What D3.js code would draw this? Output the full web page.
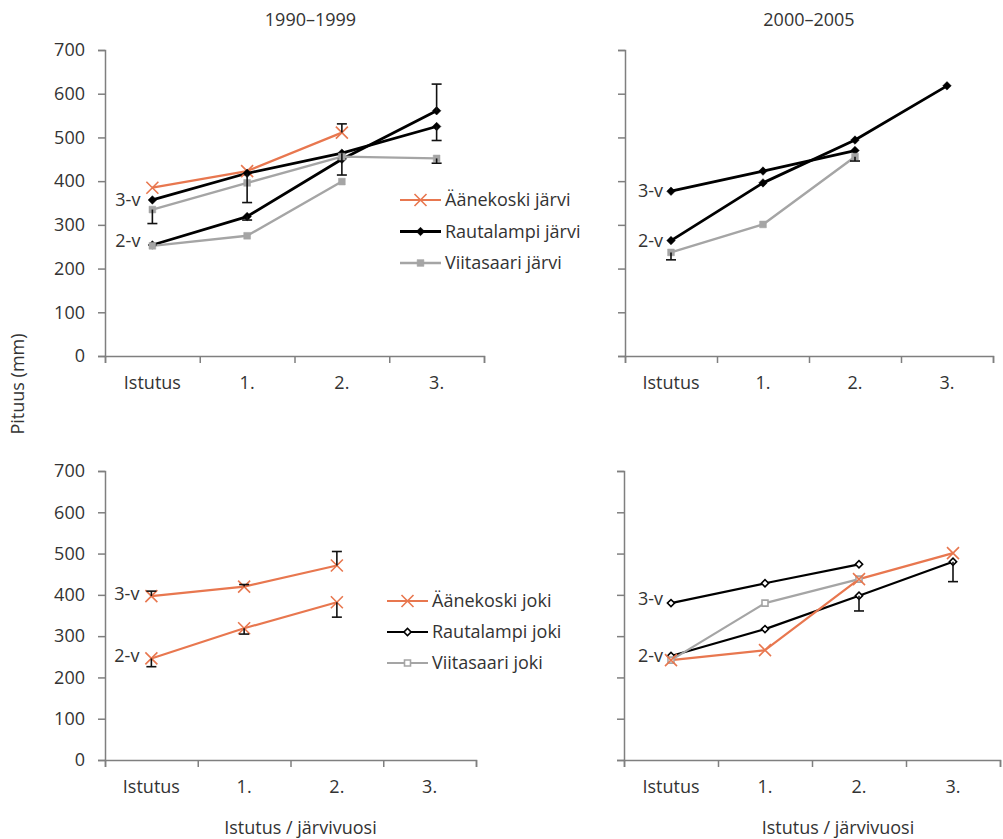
<!DOCTYPE html>
<html lang="fi">
<head>
<meta charset="UTF-8">
<title>Pituus (mm)</title>
<script src="https://d3js.org/d3.v7.min.js"></script>
<style>
  body { margin: 0; background: #fff; }
  text { font-family: "Open Sans", "Noto Sans", sans-serif; fill: #333; }
</style>
</head>
<body>
<svg id="chart" width="1003" height="839"></svg>
<script>
// luokat ja akselit
const categories = ["Istutus", "1.", "2.", "3."];
const yTicks = [0, 100, 200, 300, 400, 500, 600, 700];

// virhepalkit: + ylöspäin, - alaspäin (vain yksi suunta kuvassa)
// 1990–1999, järvi
const aanekoskiJarvi90_3v    = [385, 423, 511, null];
const aanekoskiJarvi90_3vErr = [0, 0, 20, 0];
const rautaJarvi90_3v        = [357, 418, 464, 525];
const rautaJarvi90_3vErr     = [0, -67, -50, -32];
const rautaJarvi90_2v        = [254, 319, 450, 561];
const rautaJarvi90_2vErr     = [0, -8, 0, 61];
const viitaJarvi90_3v        = [335, 396, 456, 452];
const viitaJarvi90_3vErr     = [-32, 0, 0, -11];
const viitaJarvi90_2v        = [252, 275, 399, null];

// 2000–2005, järvi
const rautaJarvi00_3v    = [377, 423, 470, null];
const rautaJarvi00_2v    = [264, 396, 494, 618];
const viitaJarvi00_2v    = [237, 301, 456, null];
const viitaJarvi00_2vErr = [-17, 0, -10, 0];

// 1990–1999, joki
const aanekoskiJoki90_3v    = [397, 420, 471, null];
const aanekoskiJoki90_3vErr = [12, 5, 34, 0];
const aanekoskiJoki90_2v    = [246, 319, 382, null];
const aanekoskiJoki90_2vErr = [-20, -14, -36, 0];

// 2000–2005, joki
const rautaJoki00_3v    = [380, 428, 474, null];
const rautaJoki00_2v    = [252, 317, 398, 480];
const rautaJoki00_2vErr = [0, 0, -37, -48];
const viitaJoki00_2v    = [242, 380, 438, null];
const aanekoskiJoki00_2v = [242, 266, 438, 501];

const ORANGE = "#E8774F", GREY = "#A5A5A5", BLACK = "#000";

const styles = {
  aanekoski: { color: ORANGE, marker: "x", width: 2.2 },
  rauta:     { color: BLACK, marker: "diamond", width: 2.8 },
  viita:     { color: GREY, marker: "square", width: 2.4 },
  rautaOpen: { color: BLACK, marker: "diamondOpen", width: 2.2 },
  viitaOpen: { color: GREY, marker: "squareOpen", width: 2.2 }
};

const panels = [
  {
    title: "1990–1999", xr: [105, 484], yr: [356, 50], yLabels: true, labelGap: 12,
    series: [
      { v: aanekoskiJarvi90_3v, e: aanekoskiJarvi90_3vErr, s: "aanekoski" },
      { v: rautaJarvi90_3v, e: rautaJarvi90_3vErr, s: "rauta" },
      { v: rautaJarvi90_2v, e: rautaJarvi90_2vErr, s: "rauta" },
      { v: viitaJarvi90_3v, e: viitaJarvi90_3vErr, s: "viita" },
      { v: viitaJarvi90_2v, s: "viita" }
    ],
    ages: [{ t: "3-v", v: rautaJarvi90_3v[0] }, { t: "2-v", v: viitaJarvi90_2v[0] + 12 }],
    legend: { x: 400, y: 200, gap: 31.5, items: [
      ["Äänekoski järvi", "aanekoski"], ["Rautalampi järvi", "rauta"], ["Viitasaari järvi", "viita"]] }
  },
  {
    title: "2000–2005", xr: [625, 993], yr: [356, 50], yLabels: false, labelGap: 8,
    series: [
      { v: rautaJarvi00_3v, s: "rauta" },
      { v: rautaJarvi00_2v, s: "rauta" },
      { v: viitaJarvi00_2v, e: viitaJarvi00_2vErr, s: "viita" }
    ],
    ages: [{ t: "3-v", v: rautaJarvi00_3v[0] }, { t: "2-v", v: rautaJarvi00_2v[0] }]
  },
  {
    xr: [105, 476], yr: [760, 471], yLabels: true, labelGap: 12, xTitle: true,
    series: [
      { v: aanekoskiJoki90_3v, e: aanekoskiJoki90_3vErr, s: "aanekoski" },
      { v: aanekoskiJoki90_2v, e: aanekoskiJoki90_2vErr, s: "aanekoski" }
    ],
    ages: [{ t: "3-v", v: aanekoskiJoki90_3v[0] + 6 }, { t: "2-v", v: aanekoskiJoki90_2v[0] + 6 }],
    legend: { x: 387, y: 601, gap: 31, items: [
      ["Äänekoski joki", "aanekoski"], ["Rautalampi joki", "rautaOpen"], ["Viitasaari joki", "viitaOpen"]] }
  },
  {
    xr: [624, 1000], yr: [760, 471], yLabels: false, labelGap: 8, xTitle: true,
    series: [
      { v: rautaJoki00_3v, s: "rautaOpen" },
      { v: rautaJoki00_2v, e: rautaJoki00_2vErr, s: "rautaOpen" },
      { v: viitaJoki00_2v, s: "viitaOpen" },
      { v: aanekoskiJoki00_2v, s: "aanekoski" }
    ],
    ages: [{ t: "3-v", v: rautaJoki00_3v[0] + 10 }, { t: "2-v", v: rautaJoki00_2v[0] }]
  }
];

const svg = d3.select("#chart");

function drawMarker(g, type, color, cx, cy) {
  if (type === "x") {
    const r = 6;
    g.append("path")
      .attr("d", `M${cx - r},${cy - r}L${cx + r},${cy + r}M${cx - r},${cy + r}L${cx + r},${cy - r}`)
      .attr("stroke", color).attr("stroke-width", 1.6).attr("fill", "none");
    return;
  }
  const open = type.endsWith("Open");
  const diamond = type.startsWith("diamond");
  const size = diamond ? (open ? 26 : 36) : (open ? 36 : 46);
  // vinoneliö = 45° käännetty neliö
  g.append("path")
    .attr("d", d3.symbol().type(d3.symbolSquare).size(size)())
    .attr("transform", `translate(${cx},${cy})${diamond ? " rotate(45)" : ""}`)
    .attr("fill", open ? "#fff" : color)
    .attr("stroke", color)
    .attr("stroke-width", open ? 1.6 : 0.5);
}

panels.forEach(p => {
  const x = d3.scaleBand().domain(categories).range(p.xr);
  const xb = d3.scaleLinear().domain([0, categories.length]).range(p.xr);
  const y = d3.scaleLinear().domain([0, 700]).range(p.yr);
  const cx = c => x(c) + x.bandwidth() / 2;
  const g = svg.append("g");

  // y-akseli
  const ya = g.append("g").attr("transform", `translate(${p.xr[0]},0)`)
    .call(d3.axisLeft(y).tickValues(yTicks).tickSize(7).tickPadding(13)
      .tickFormat(p.yLabels ? d3.format("d") : ""));
  // x-akselin jakoviivat luokkien rajoilla
  const xa = g.append("g").attr("transform", `translate(0,${p.yr[0]})`)
    .call(d3.axisBottom(xb).ticks(categories.length).tickSize(7).tickFormat(""));
  // luokkien nimet
  const xl = g.append("g").attr("transform", `translate(0,${p.yr[0]})`)
    .call(d3.axisBottom(x).tickSize(0).tickPadding(20));
  xl.select(".domain").remove();
  [ya, xa].forEach(a => {
    a.select(".domain").attr("stroke", "#7f7f7f").attr("stroke-width", 1.5);
    a.selectAll(".tick line").attr("stroke", "#7f7f7f").attr("stroke-width", 1.5);
  });
  g.selectAll(".tick text").style("font-size", "18px").attr("fill", "#333");

  if (p.title) {
    g.append("text").attr("x", (p.xr[0] + p.xr[1]) / 2 + (p.yLabels ? 16 : 0)).attr("y", 26)
      .attr("text-anchor", "middle").style("font-size", "18px").text(p.title);
  }
  if (p.xTitle) {
    g.append("text").attr("x", (p.xr[0] + p.xr[1]) / 2 + (p.yLabels ? 10 : 26)).attr("y", 834)
      .attr("text-anchor", "middle").style("font-size", "18px").text("Istutus / järvivuosi");
  }

  // viivat
  const line = d3.line().defined(d => d != null).x((d, i) => cx(categories[i])).y(d => y(d));
  p.series.forEach(sr => {
    const st = styles[sr.s];
    g.append("path").datum(sr.v).attr("d", line)
      .attr("fill", "none").attr("stroke", st.color).attr("stroke-width", st.width)
      .attr("stroke-linejoin", "round");
  });
  // pisteet
  p.series.forEach(sr => {
    const st = styles[sr.s];
    sr.v.forEach((d, i) => { if (d != null) drawMarker(g, st.marker, st.color, cx(categories[i]), y(d)); });
  });
  // virhepalkit
  p.series.forEach(sr => {
    if (!sr.e) return;
    sr.v.forEach((d, i) => {
      const e = sr.e[i];
      if (d == null || !e) return;
      const px = cx(categories[i]);
      g.append("line").attr("x1", px).attr("x2", px).attr("y1", y(d)).attr("y2", y(d + e))
        .attr("stroke", "#111").attr("stroke-width", 1.6);
      g.append("line").attr("x1", px - 5).attr("x2", px + 5).attr("y1", y(d + e)).attr("y2", y(d + e))
        .attr("stroke", "#111").attr("stroke-width", 1.6);
    });
  });

  // ikäryhmien merkinnät
  p.ages.forEach(a => {
    g.append("text").attr("x", cx(categories[0]) - p.labelGap).attr("y", y(a.v))
      .attr("dy", "0.35em").attr("text-anchor", "end").style("font-size", "18px").text(a.t);
  });

  // selite
  if (p.legend) {
    const L = p.legend;
    L.items.forEach(([name, key], i) => {
      const st = styles[key];
      const ly = L.y + i * L.gap;
      g.append("line").attr("x1", L.x).attr("x2", L.x + 41).attr("y1", ly).attr("y2", ly)
        .attr("stroke", st.color).attr("stroke-width", st.width);
      drawMarker(g, st.marker, st.color, L.x + 20.5, ly);
      g.append("text").attr("x", L.x + 45).attr("y", ly).attr("dy", "0.35em")
        .style("font-size", "18px").text(name);
    });
  }
});

// y-akselin otsikko
svg.append("text").attr("transform", "translate(24,384) rotate(-90)")
  .attr("text-anchor", "middle").style("font-size", "18px").text("Pituus (mm)");
</script>
</body>
</html>
